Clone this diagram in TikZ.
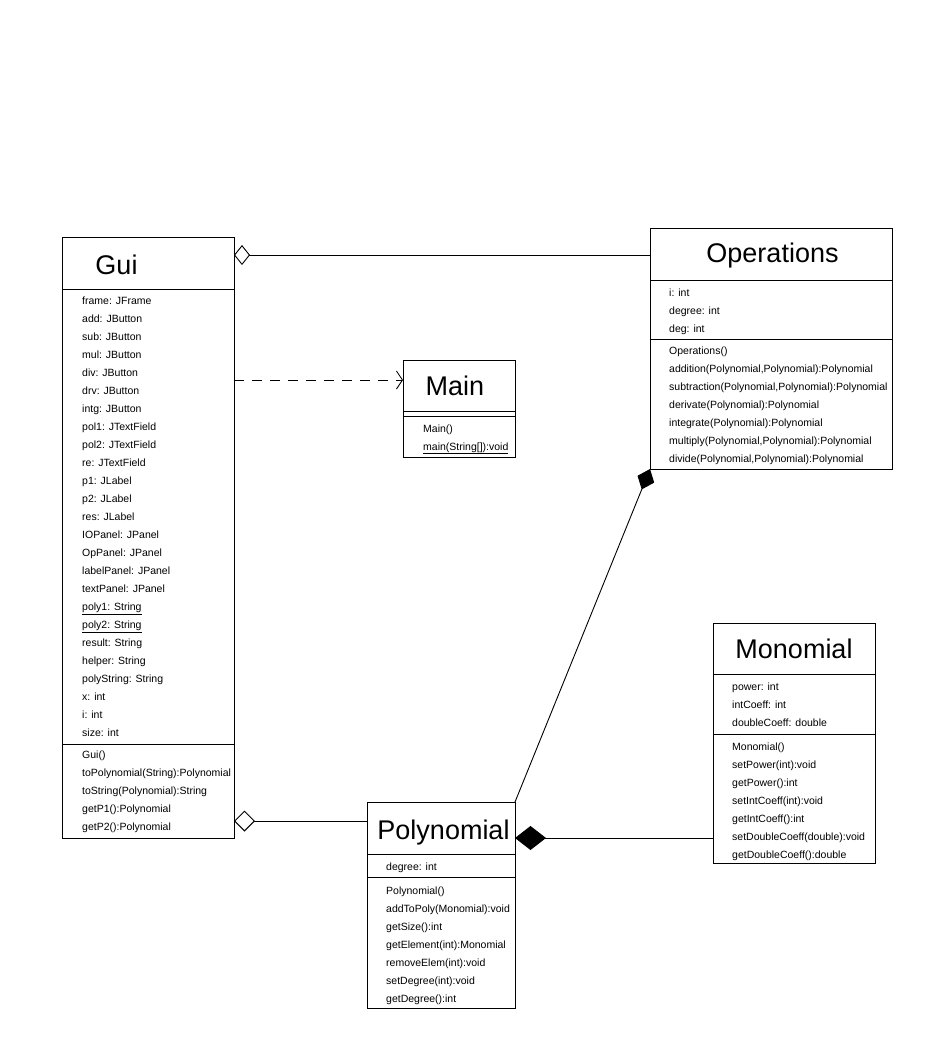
\documentclass[tikz,border=0pt]{standalone}
\usepackage{fontspec}
\setmainfont{Liberation Sans}
\usetikzlibrary{arrows.meta}
\begin{document}
\begin{tikzpicture}[x=1pt,y=-1pt,
  classbox/.style={draw, line width=1pt, rectangle, anchor=north west, inner sep=0pt, outer sep=0pt},
  classtitle/.style={anchor=base, inner sep=0pt, font=\fontsize{27}{30}\selectfont},
  member/.style={anchor=base west, inner sep=0pt, font=\fontsize{10.5}{12}\selectfont},
  sepline/.style={line width=1pt},
  link/.style={line width=0.9pt},
  aggrsmall/.style={link, {Diamond[open, length=16pt, width=20pt, line width=0.9pt]}-},
  aggrbig/.style={link, {Diamond[open, length=21pt, width=21pt, line width=0.9pt]}-},
  compsmall/.style={link, -{Diamond[length=22pt, width=18pt]}},
  compbig/.style={link, {Diamond[length=31pt, width=24pt]}-},
  depend/.style={link, dash pattern=on 10pt off 8pt, -{Straight Barb[length=6pt, width=18pt, line width=0.9pt]}}
]
\useasboundingbox (0,0) rectangle (945,1061);
\fill[white] (0,0) rectangle (945,1061);

% ---------- Gui ----------
\node[classbox, minimum width=172pt, minimum height=601pt] (gui) at (62,237) {};
\draw[sepline] (gui.west |- 0,289) -- (gui.east |- 0,289);
\draw[sepline] (gui.west |- 0,744) -- (gui.east |- 0,744);
\node[classtitle] (gui-t) at (116.5,274) {Gui};
\foreach \t [count=\i from 0] in {frame: JFrame, add: JButton, sub: JButton, mul: JButton,
    div: JButton, drv: JButton, intg: JButton, pol1: JTextField, pol2: JTextField,
    re: JTextField, p1: JLabel, p2: JLabel, res: JLabel, IOPanel: JPanel, OpPanel: JPanel,
    labelPanel: JPanel, textPanel: JPanel, \underline{poly1: String}, \underline{poly2: String},
    result: String, helper: String, polyString: String, x: int, i: int, size: int}
  \node[member] (gui-a\i) at (82,304.5+18*\i) {\t};
\foreach \t [count=\i from 0] in {Gui(), toPolynomial(String):Polynomial,
    toString(Polynomial):String, getP1():Polynomial, getP2():Polynomial}
  \node[member] (gui-m\i) at (82,758.5+18*\i) {\t};

% ---------- Operations ----------
\node[classbox, minimum width=242pt, minimum height=241pt] (ops) at (650,228) {};
\draw[sepline] (ops.west |- 0,280) -- (ops.east |- 0,280);
\draw[sepline] (ops.west |- 0,339) -- (ops.east |- 0,339);
\node[classtitle] (ops-t) at (772.5,262) {Operations};
\foreach \t [count=\i from 0] in {i: int, degree: int, deg: int}
  \node[member] (ops-a\i) at (669,296+18*\i) {\t};
\foreach \t [count=\i from 0] in {Operations(),
    {addition(Polynomial,Polynomial):Polynomial},
    {subtraction(Polynomial,Polynomial):Polynomial},
    derivate(Polynomial):Polynomial, integrate(Polynomial):Polynomial,
    {multiply(Polynomial,Polynomial):Polynomial},
    {divide(Polynomial,Polynomial):Polynomial}}
  \node[member] (ops-m\i) at (669,354.5+18*\i) {\t};

% ---------- Main ----------
\node[classbox, minimum width=112pt, minimum height=97pt] (main) at (403,360) {};
\draw[sepline] (main.west |- 0,411) -- (main.east |- 0,411);
\draw[sepline] (main.west |- 0,416) -- (main.east |- 0,416);
\node[classtitle] (main-t) at (455,395) {Main};
\node[member] (main-m0) at (423,432) {Main()};
\node[member] (main-m1) at (423,450) {\underline{main(String[]):void}};

% ---------- Monomial ----------
\node[classbox, minimum width=162pt, minimum height=240pt] (mono) at (713,623) {};
\draw[sepline] (mono.west |- 0,674.5) -- (mono.east |- 0,674.5);
\draw[sepline] (mono.west |- 0,734.5) -- (mono.east |- 0,734.5);
\node[classtitle] (mono-t) at (794,658) {Monomial};
\foreach \t [count=\i from 0] in {power: int, intCoeff: int, doubleCoeff: double}
  \node[member] (mono-a\i) at (732,690+18*\i) {\t};
\foreach \t [count=\i from 0] in {Monomial(), setPower(int):void, getPower():int,
    setIntCoeff(int):void, getIntCoeff():int, setDoubleCoeff(double):void,
    getDoubleCoeff():double}
  \node[member] (mono-m\i) at (732,750+18*\i) {\t};

% ---------- Polynomial ----------
\node[classbox, minimum width=148pt, minimum height=206pt] (poly) at (367,802) {};
\draw[sepline] (poly.west |- 0,854) -- (poly.east |- 0,854);
\draw[sepline] (poly.west |- 0,877) -- (poly.east |- 0,877);
\node[classtitle] (poly-t) at (443.5,839) {Polynomial};
\node[member] (poly-a0) at (386,870) {degree: int};
\foreach \t [count=\i from 0] in {Polynomial(), addToPoly(Monomial):void, getSize():int,
    getElement(int):Monomial, removeElem(int):void, setDegree(int):void, getDegree():int}
  \node[member] (poly-m\i) at (386,894+18*\i) {\t};

% ---------- Relations ----------
\draw[aggrsmall] (gui.east |- 0,255) -- (ops.west |- 0,255);
\draw[depend] (gui.east |- 0,380) -- (main.west |- 0,380);
\draw[aggrbig] (gui.east |- 0,821) -- (poly.west |- 0,821);
\draw[compsmall] (poly.north east) -- (ops.south west);
\draw[compbig] (poly.east |- 0,838) -- (mono.west |- 0,838);
\end{tikzpicture}
\end{document}
